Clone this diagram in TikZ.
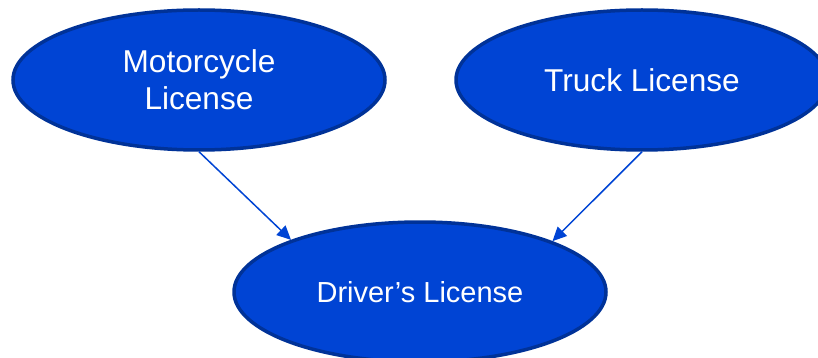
\documentclass[tikz,border=0pt]{standalone}
\usepackage{fontspec}
\setmainfont{Liberation Sans}
\usetikzlibrary{shapes.geometric,arrows.meta}
\definecolor{lic}{RGB}{0,68,212}
\definecolor{licedge}{RGB}{0,50,152}
\begin{document}
\begin{tikzpicture}[x=1pt,y=-1pt,
  license/.style={ellipse, draw=licedge, line width=3.5pt, fill=lic, text=white,
    minimum width=372pt, minimum height=140pt, inner sep=0pt, align=center},
  link/.style={draw=lic, line width=1.5pt, -{Triangle[length=14pt,width=13pt]}}]
\useasboundingbox (0,0) rectangle (818,358);
\clip (0,0) rectangle (818,358);
% the three licence classes
\node[license, font=\fontsize{31.6}{37}\selectfont] (moto) at (199,80) {Motorcycle\\License};
\node[license, font=\fontsize{31.6}{37}\selectfont] (truck) at (642,80) {Truck License};
\node[license, font=\fontsize{29}{35}\selectfont] (drive) at (420,292) {Driver’s License};
% prerequisites
\draw[link] (moto.south) -- (drive.158.6);
\draw[link] (truck.south) -- (drive.21.7);
\end{tikzpicture}
\end{document}
